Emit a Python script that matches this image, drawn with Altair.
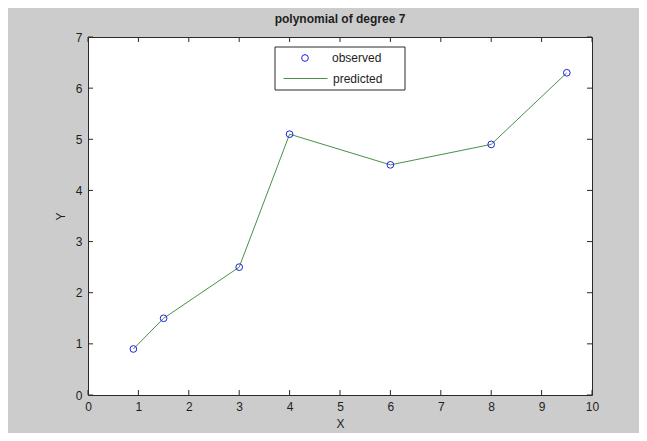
import altair as alt
import pandas as pd

# ---- data ----
x_vals = [0.9, 1.5, 3.0, 4.0, 6.0, 8.0, 9.5]
y_observed = [0.9, 1.5, 2.5, 5.1, 4.5, 4.9, 6.3]
y_predicted = [0.9, 1.5, 2.5, 5.1, 4.5, 4.9, 6.3]
x_ticks = [0, 1, 2, 3, 4, 5, 6, 7, 8, 9, 10]
y_ticks = [0, 1, 2, 3, 4, 5, 6, 7]
chart_title = "polynomial of degree 7"
x_title = "X"
y_title = "Y"
series_names = ["observed", "predicted"]

# ---- styling ----
W, H = 504, 358
FONT = "Liberation Sans"
TXT = "#1e1e1e"
FRAME = "#2a2a2a"
BLUE = "#2020e0"
GREEN = "#4a904a"
BG = "#cccccc"

obs = pd.DataFrame({"x": x_vals, "y": y_observed, "series": series_names[0]})
pred = pd.DataFrame({"x": x_vals, "y": y_predicted, "series": series_names[1]})
xt = pd.DataFrame({"v": x_ticks})
yt = pd.DataFrame({"v": y_ticks})

xs = alt.Scale(domain=[x_ticks[0], x_ticks[-1]], nice=False, zero=False)
ys = alt.Scale(domain=[y_ticks[0], y_ticks[-1]], nice=False, zero=False)

xaxis = alt.Axis(values=x_ticks, ticks=False, domain=False, grid=False,
                 labelPadding=6, labelFlush=False, labelOverlap=False,
                 labelFont=FONT, labelFontSize=12, labelColor=TXT,
                 title=x_title, titleFont=FONT, titleFontSize=12,
                 titleFontWeight="normal", titleColor=TXT, titlePadding=6,
                 format="d")
yaxis = alt.Axis(values=y_ticks, ticks=False, domain=False, grid=False,
                 labelPadding=6, labelFlush=False, labelOverlap=False,
                 labelFont=FONT, labelFontSize=12, labelColor=TXT,
                 title=y_title, titleFont=FONT, titleFontSize=12,
                 titleFontWeight="normal", titleColor=TXT, titlePadding=8,
                 format="d")

line = alt.Chart(pred).mark_line(strokeWidth=1).encode(
    x=alt.X("x:Q", scale=xs, axis=xaxis),
    y=alt.Y("y:Q", scale=ys, axis=yaxis),
    color=alt.Color("series:N",
                    scale=alt.Scale(domain=[series_names[1]], range=[GREEN]),
                    legend=alt.Legend(orient="none", legendX=195, legendY=19,
                                      title=None, symbolType="stroke",
                                      symbolSize=1936, symbolStrokeWidth=1,
                                      labelOffset=5, padding=0,
                                      labelFont=FONT, labelFontSize=12,
                                      labelColor=TXT)),
)

points = alt.Chart(obs).mark_point(shape="circle", filled=False, size=45,
                                    strokeWidth=1, color=BLUE, opacity=1).encode(
    x=alt.X("x:Q", scale=xs),
    y=alt.Y("y:Q", scale=ys),
    shape=alt.Shape("series:N",
                    scale=alt.Scale(domain=[series_names[0]], range=["circle"]),
                    legend=alt.Legend(orient="none", legendX=211, legendY=15,
                                      title=None, symbolSize=45,
                                      symbolStrokeColor=BLUE,
                                      symbolFillColor="transparent",
                                      symbolStrokeWidth=1, labelOffset=21,
                                      padding=0, labelFont=FONT,
                                      labelFontSize=12, labelColor=TXT)),
)

# legend frame
box = alt.Chart(pd.DataFrame({"a": [0]})).mark_rect(
    fill="white", stroke=FRAME, strokeWidth=1
).encode(x=alt.value(187), x2=alt.value(317), y=alt.value(10), y2=alt.value(53))

# inward ticks on all four sides
tb = alt.Chart(xt).mark_rule(color=FRAME, strokeWidth=1).encode(
    x=alt.X("v:Q", scale=xs), y=alt.value(H), y2=alt.value(H - 5))
tt = alt.Chart(xt).mark_rule(color=FRAME, strokeWidth=1).encode(
    x=alt.X("v:Q", scale=xs), y=alt.value(0), y2=alt.value(5))
tl = alt.Chart(yt).mark_rule(color=FRAME, strokeWidth=1).encode(
    y=alt.Y("v:Q", scale=ys), x=alt.value(0), x2=alt.value(5))
tr = alt.Chart(yt).mark_rule(color=FRAME, strokeWidth=1).encode(
    y=alt.Y("v:Q", scale=ys), x=alt.value(W), x2=alt.value(W - 5))

chart = alt.layer(tb, tt, tl, tr, line, points, box).resolve_scale(
    color="independent", shape="independent"
).properties(
    width=W, height=H,
    title=alt.TitleParams(chart_title, font=FONT, fontSize=12,
                          fontWeight="bold", color=TXT, offset=5,
                          anchor="middle"),
    padding={"left": 80, "top": 29, "right": 47, "bottom": 38},
    autosize=alt.AutoSizeParams(type="none"),
    background=BG,
).configure_view(
    stroke=FRAME, strokeWidth=1, fill="white"
)

chart.save("out.html", embed_options={"renderer": "svg", "actions": False})
